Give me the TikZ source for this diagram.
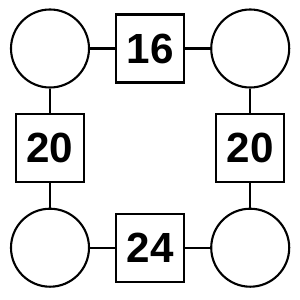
\documentclass[tikz,border=0pt]{standalone}
\usepackage{fontspec}
\setmainfont{Liberation Sans}
\usepackage{tikz}
\usetikzlibrary{positioning}
\newcommand{\numfont}{\fontsize{24}{24}\selectfont\bfseries}
\tikzset{
  slot/.style={draw, circle, line width=1.2pt, minimum size=15.6mm,
    inner sep=0pt},
  numbox/.style={draw, rectangle, line width=1.2pt, minimum size=13.6mm,
    inner sep=0pt, font=\numfont},
  link/.style={line width=1.2pt}
}
\begin{document}
\begin{tikzpicture}[node distance=4.9mm and 5.0mm]
  \useasboundingbox (0,0) rectangle (6,6);
  \node[slot] (tl) at (1.0,5.03) {};
  \node[numbox, right=of tl] (top) {16};
  \node[slot, right=of top] (tr) {};
  \node[numbox, below=of tl] (left) {20};
  \node[slot, below=of left] (bl) {};
  \node[numbox, right=of bl] (bottom) {24};
  \node[slot, right=of bottom] (br) {};
  \node[numbox, below=of tr] (right) {20};
  \draw[link] (tl) -- (top);
  \draw[link] (top) -- (tr);
  \draw[link] (tl) -- (left);
  \draw[link] (left) -- (bl);
  \draw[link] (bl) -- (bottom);
  \draw[link] (bottom) -- (br);
  \draw[link] (tr) -- (right);
  \draw[link] (right) -- (br);
\end{tikzpicture}
\end{document}
